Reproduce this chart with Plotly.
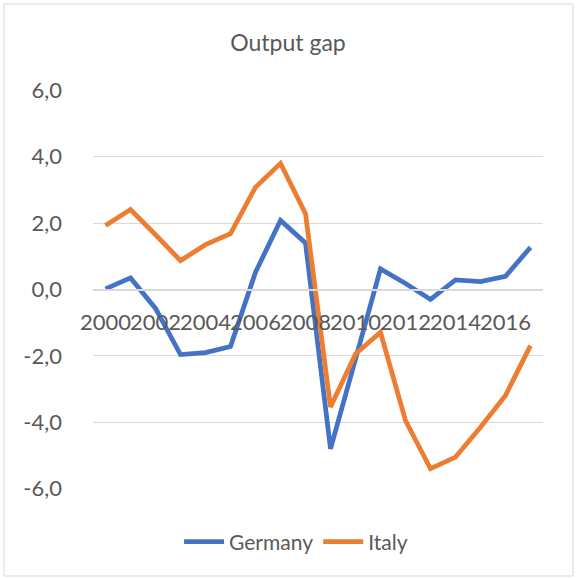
import plotly.graph_objects as go

years = list(range(2000, 2018))
germany = [0.02, 0.35, -0.57, -1.96, -1.90, -1.72, 0.52, 2.08, 1.40, -4.80, -2.10,
           0.62, 0.18, -0.30, 0.29, 0.24, 0.40, 1.27]
italy = [1.93, 2.41, 1.65, 0.87, 1.35, 1.68, 3.08, 3.80, 2.28, -3.54, -1.94,
         -1.29, -3.95, -5.40, -5.05, -4.15, -3.19, -1.69]

x_tick_vals = [2000, 2002, 2004, 2006, 2008, 2010, 2012, 2014, 2016]
x_tick_text = [str(v) for v in x_tick_vals]
y_tick_vals = [-6, -4, -2, 0, 2, 4, 6]
y_tick_text = ["-6,0", "-4,0", "-2,0", "0,0", "2,0", "4,0", "6,0"]

FONT = "Lato, Liberation Sans, sans-serif"
GREY = "#595959"

fig = go.Figure()
fig.add_trace(go.Scatter(x=years, y=germany, name="Germany", mode="lines",
                         line=dict(color="#4472C4", width=4.75)))
fig.add_trace(go.Scatter(x=years, y=italy, name="Italy", mode="lines",
                         line=dict(color="#ED7D31", width=4.75)))

fig.update_layout(
    width=576, height=578,
    margin=dict(l=93, r=33, t=90, b=89, autoexpand=False),
    paper_bgcolor="white", plot_bgcolor="white",
    font=dict(family=FONT, color=GREY, size=22),
    title=dict(text="Output gap", x=0.5, xref="container", y=1 - 43 / 578,
               yref="container", xanchor="center", yanchor="middle",
               font=dict(size=23, color=GREY, family=FONT)),
    showlegend=True,
    legend=dict(orientation="h", xref="container", yref="container",
                x=0.514, y=1 - 542 / 578, xanchor="center", yanchor="middle",
                font=dict(size=21, color=GREY, family=FONT), itemwidth=40),
    xaxis=dict(range=[1999.5, 2017.5], tickvals=x_tick_vals, ticktext=x_tick_text,
               showgrid=False, zeroline=False, anchor="free", position=0.5,
               showline=True, linecolor="#d9d9d9", linewidth=1.5, ticks="",
               tickangle=0, automargin=False,
               tickfont=dict(size=22, color=GREY), ticklabelstandoff=13),
    yaxis=dict(range=[-6.01, 6.01], tickvals=y_tick_vals, ticktext=y_tick_text,
               showgrid=True, gridcolor="#d9d9d9", gridwidth=1.3, zeroline=False,
               showline=False, ticks="", automargin=False,
               tickfont=dict(size=22, color=GREY), ticklabelstandoff=30),
    shapes=[dict(type="rect", xref="paper", yref="paper",
                 x0=(4 - 93) / 450, x1=(573 - 93) / 450,
                 y0=(489 - 576) / 399, y1=(489 - 4) / 399,
                 line=dict(color="#d9d9d9", width=1), layer="below")],
)

fig.write_html("out.html", config={"displayModeBar": False},
               post_script="document.body.style.margin='0';")
